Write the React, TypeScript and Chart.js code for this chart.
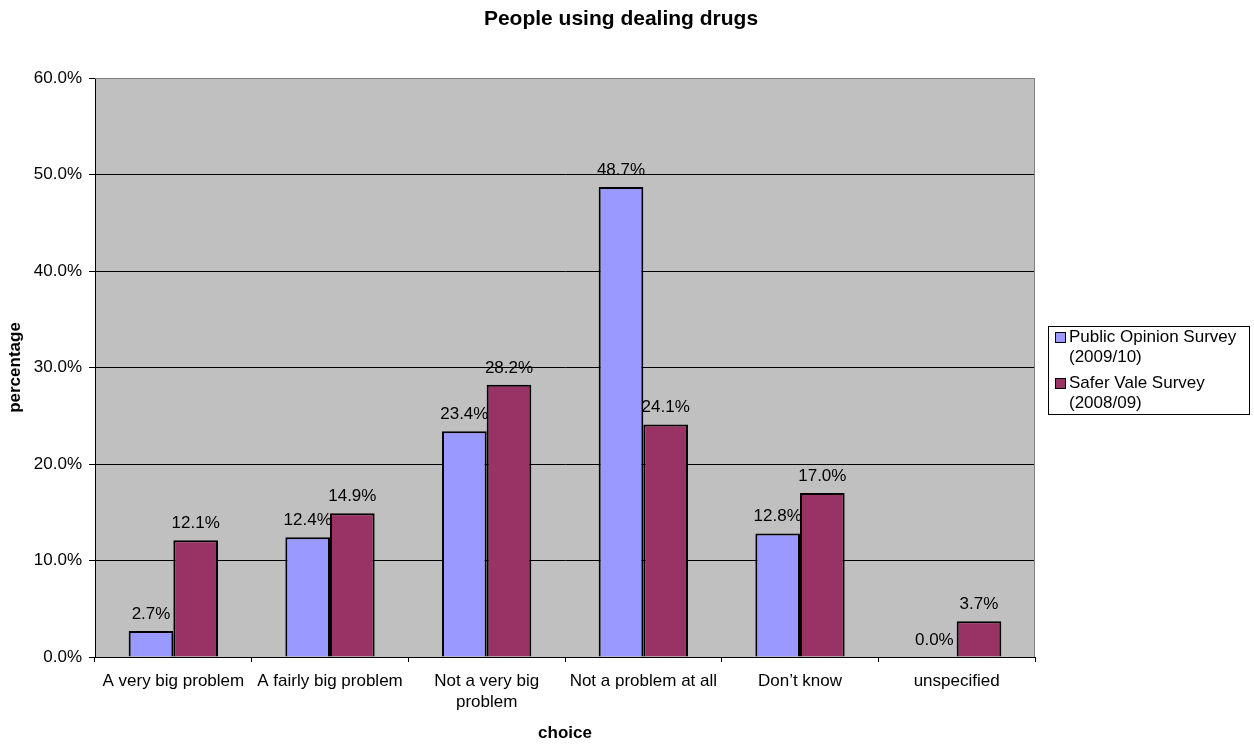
import React, { useEffect, useRef } from "react";
import { Chart, registerables } from "chart.js";

Chart.register(...registerables);

const categories: (string | string[])[] = [
  "A very big problem",
  "A fairly big problem",
  ["Not a very big", "problem"],
  "Not a problem at all",
  "Don\u2019t know",
  "unspecified",
];
const publicOpinion = [2.7, 12.4, 23.4, 48.7, 12.8, 0.0];
const saferVale = [12.1, 14.9, 28.2, 24.1, 17.0, 3.7];
const seriesNames = [["Public Opinion Survey", "(2009/10)"], ["Safer Vale Survey", "(2008/09)"]];
const seriesColors = ["#9999FF", "#993366"];
const chartTitle = "People using dealing drugs";
const xTitle = "choice";
const yTitle = "percentage";

const FONT = "'Liberation Sans', Arial, sans-serif";

const decorPlugin = {
  id: "decor",
  beforeDraw(chart: any) {
    const { ctx, chartArea } = chart;
    ctx.save();
    ctx.fillStyle = "#FFFFFF";
    ctx.fillRect(0, 0, chart.width, chart.height);
    ctx.fillStyle = "#C0C0C0";
    ctx.fillRect(chartArea.left, chartArea.top, chartArea.right - chartArea.left, chartArea.bottom - chartArea.top);
    ctx.restore();
  },
  beforeDatasetsDraw(chart: any) {
    const { ctx, chartArea } = chart;
    ctx.save();
    ctx.strokeStyle = "#808080";
    ctx.lineWidth = 1;
    ctx.beginPath();
    ctx.moveTo(chartArea.left, chartArea.top + 0.5);
    ctx.lineTo(chartArea.right - 0.5, chartArea.top + 0.5);
    ctx.lineTo(chartArea.right - 0.5, chartArea.bottom);
    ctx.stroke();
    ctx.restore();
  },
  afterDraw(chart: any) {
    const { ctx, chartArea } = chart;
    const cx = (chartArea.left + chartArea.right) / 2;
    ctx.save();
    ctx.fillStyle = "#000";
    ctx.textAlign = "center";
    ctx.textBaseline = "middle";
    ctx.font = `bold 21px ${FONT}`;
    ctx.fillText(chartTitle, 621, 19);
    ctx.font = `bold 17px ${FONT}`;
    ctx.fillText(xTitle, cx, 733);
    ctx.save();
    ctx.translate(15, (chartArea.top + chartArea.bottom) / 2);
    ctx.rotate(-Math.PI / 2);
    ctx.fillText(yTitle, 0, 0);
    ctx.restore();

    // data labels
    ctx.font = `17px ${FONT}`;
    chart.data.datasets.forEach((ds: any, i: number) => {
      const meta = chart.getDatasetMeta(i);
      meta.data.forEach((bar: any, j: number) => {
        const v = ds.data[j];
        ctx.fillText(v.toFixed(1) + "%", bar.x, bar.y - 17);
      });
    });

    // legend
    const lx = 1048, ly = 326, lw = 201, lh = 88;
    ctx.fillStyle = "#FFFFFF";
    ctx.fillRect(lx, ly, lw, lh);
    ctx.strokeStyle = "#000";
    ctx.lineWidth = 1;
    ctx.strokeRect(lx + 0.5, ly + 0.5, lw, lh);
    ctx.textAlign = "left";
    const rows = [337, 383];
    seriesNames.forEach((names, i) => {
      const y = rows[i];
      ctx.fillStyle = seriesColors[i];
      ctx.fillRect(1055, y - 5, 10, 10);
      ctx.strokeStyle = "#000";
      ctx.strokeRect(1055.5, y - 4.5, 10, 10);
      ctx.fillStyle = "#000";
      ctx.fillText(names[0], 1069, y);
      ctx.fillText(names[1], 1069, y + 20);
    });
    ctx.restore();
  },
};

export default function App() {
  const ref = useRef<HTMLCanvasElement>(null);
  useEffect(() => {
    if (!ref.current) return;
    const chart = new Chart(ref.current, {
      type: "bar",
      data: {
        labels: categories,
        datasets: [
          {
            label: "Public Opinion Survey (2009/10)",
            data: publicOpinion,
            backgroundColor: seriesColors[0],
            borderColor: "#000",
            borderWidth: 2,
            categoryPercentage: 0.57,
            barPercentage: 1,
          },
          {
            label: "Safer Vale Survey (2008/09)",
            data: saferVale,
            backgroundColor: seriesColors[1],
            borderColor: "#000",
            borderWidth: 2,
            categoryPercentage: 0.57,
            barPercentage: 1,
          },
        ],
      },
      options: {
        responsive: false,
        animation: false,
        devicePixelRatio: 1,
        layout: { padding: { top: 78, right: 219, left: 0, bottom: 0 } },
        plugins: { legend: { display: false }, title: { display: false }, tooltip: { enabled: false } },
        scales: {
          x: {
            offset: true,
            grid: { offset: true, drawOnChartArea: false, drawTicks: true, tickLength: 5, color: "#000" },
            border: { color: "#000", width: 1 },
            ticks: {
              color: "#000",
              font: { family: FONT, size: 17, lineHeight: 1.24 },
              padding: 9,
              maxRotation: 0,
              autoSkip: false,
            },
            afterFit: (s: any) => { s.height = 87; },
          },
          y: {
            min: 0,
            max: 60,
            ticks: {
              stepSize: 10,
              color: "#000",
              font: { family: FONT, size: 17 },
              padding: 7,
              callback: (v: any) => Number(v).toFixed(1) + "%",
            },
            grid: {
              color: (c: any) => (c.tick && c.tick.value === 60 ? "#808080" : "#000"),
              tickColor: "#000",
              tickLength: 6,
            },
            border: { color: "#000", width: 1 },
            afterFit: (s: any) => { s.width = 95; },
          },
        },
      },
      plugins: [decorPlugin],
    });
    return () => chart.destroy();
  }, []);
  return (
    <div style={{ position: "absolute", left: 0, top: 0, width: 1254, height: 744 }}>
      <canvas ref={ref} width={1254} height={744} style={{ width: 1254, height: 744 }} />
    </div>
  );
}
